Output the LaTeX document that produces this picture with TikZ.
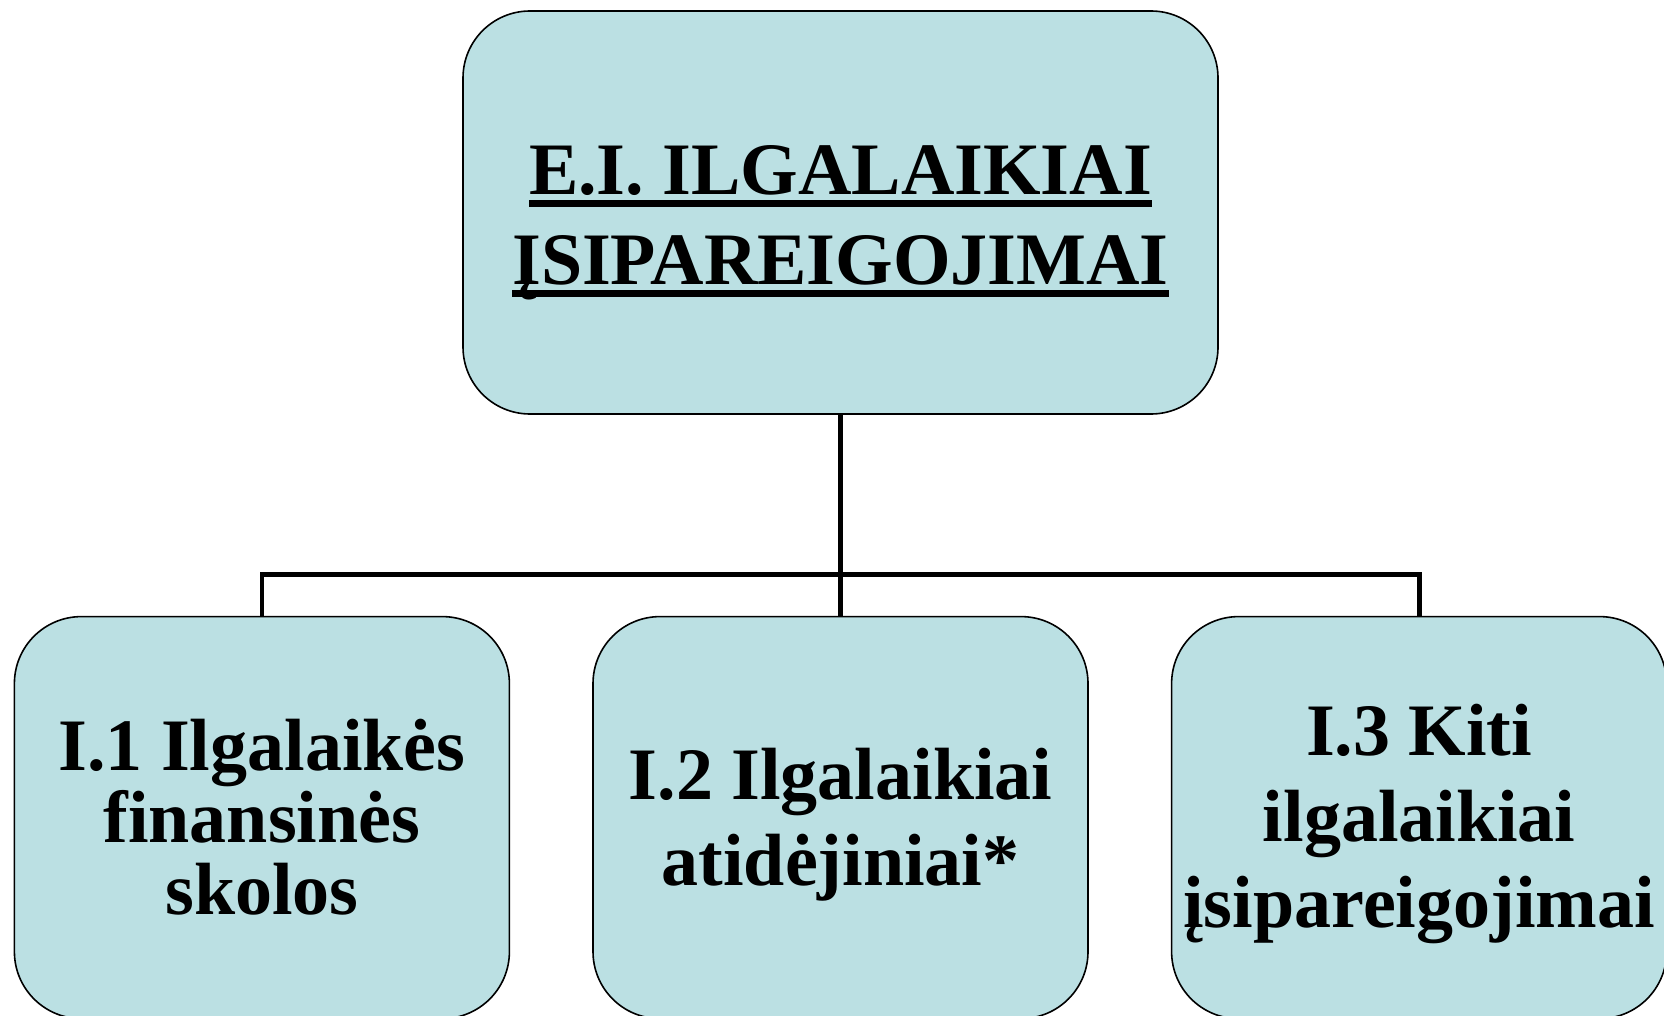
\documentclass[tikz,border=0pt]{standalone}
\usepackage{fontspec}
\setmainfont{Liberation Serif}
\usetikzlibrary{positioning}
\usetikzlibrary{calc}
\usepackage{xcolor}
\definecolor{boxfill}{RGB}{187,224,227}
\newsavebox{\ulinebox}
\newcommand{\ulbar}[1]{\sbox{\ulinebox}{#1}\rlap{\rule[-6pt]{\wd\ulinebox}{3.5pt}}\usebox{\ulinebox}}
\newcommand{\topgap}[1]{\rule{0pt}{#1}}

\begin{document}
\begin{tikzpicture}[
  topbox/.style={draw, rounded corners=33.5pt, fill=boxfill, align=center, line width=0.8pt, inner sep=2pt, minimum width=377.5pt, minimum height=201.5pt, font=\fontsize{37pt}{45pt}\selectfont\bfseries},
  subbox/.style={draw, rounded corners=33.5pt, fill=boxfill, align=center, line width=0.8pt, inner sep=2pt, minimum width=247.5pt, minimum height=201pt, font=\fontsize{37pt}{43pt}\selectfont\bfseries},
  link/.style={line width=2.4pt}
]
\useasboundingbox (0,0) rectangle (832pt,-508pt);

\node[topbox] (liab) at (420.25pt,-106.25pt) {\topgap{35pt}\ulbar{E.I. ILGALAIKIAI}\\\ulbar{ĮSIPAREIGOJIMAI}};

\node[subbox, below=100.5pt of liab] (prov) {\topgap{32.5pt}I.2 Ilgalaikiai\\atidėjiniai*};
\node[subbox, left=41pt of prov, font=\fontsize{37pt}{36pt}\selectfont\bfseries] (debt) {I.1 Ilgalaikės\\finansinės\\skolos};
\node[subbox, right=41pt of prov] (other) {\topgap{32.5pt}I.3 Kiti\\ilgalaikiai\\įsipareigojimai};

% Tree connector
\coordinate (hub) at ($(liab.south)+(0,-80pt)$);
\draw[link] (liab.south) -- (hub) -- (prov.north);
\draw[link] (debt.north) |- (hub) -| (other.north);

\end{tikzpicture}
\end{document}
